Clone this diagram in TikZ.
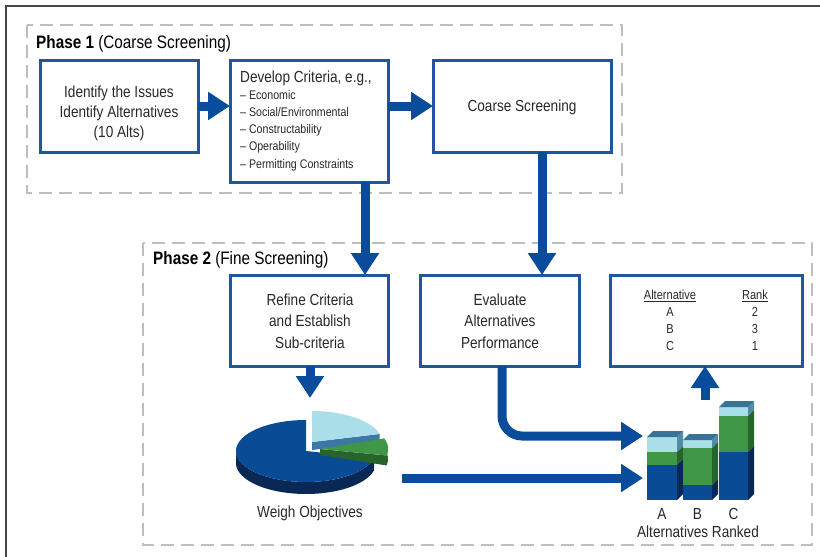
\documentclass[tikz,border=0pt]{standalone}
\usepackage{fontspec}
\setmainfont[FakeStretch=0.85]{Liberation Sans}
\usetikzlibrary{arrows.meta}
\definecolor{boxblue}{RGB}{35,84,160}
\definecolor{arrowblue}{RGB}{8,76,155}
\definecolor{dashgray}{RGB}{190,190,190}
\definecolor{framegray}{RGB}{70,70,70}
\definecolor{txtgray}{RGB}{40,40,40}
\definecolor{topblue}{RGB}{10,75,150}
\definecolor{sideblue}{RGB}{10,40,85}
\definecolor{lightb}{RGB}{170,222,232}
\definecolor{steel}{RGB}{60,120,165}
\definecolor{greenc}{RGB}{62,150,70}
\definecolor{darkgreen}{RGB}{38,100,44}
\definecolor{bartop}{RGB}{55,115,150}
\definecolor{lbside}{RGB}{80,140,170}
\newcommand\drawbar[6]{%
  \fill[lightb] (#1,#3) rectangle (#2,#4);
  \fill[greenc] (#1,#4) rectangle (#2,#5);
  \fill[topblue] (#1,#5) rectangle (#2,#6);
  \fill[lbside] (#2,#3) -- (#2+6,#3-6) -- (#2+6,#4-6) -- (#2,#4) -- cycle;
  \fill[darkgreen] (#2,#4) -- (#2+6,#4-6) -- (#2+6,#5-6) -- (#2,#5) -- cycle;
  \fill[sideblue] (#2,#5) -- (#2+6,#5-6) -- (#2+6,#6-6) -- (#2,#6) -- cycle;
  \fill[bartop] (#1,#3) -- (#1+6,#3-6) -- (#2+6,#3-6) -- (#2,#3) -- cycle;
}
\begin{document}
\begin{tikzpicture}[x=1pt,y=-1pt,
  box/.style={draw=boxblue, line width=3pt, fill=white, inner sep=0pt, outer sep=0pt},
  phase/.style={draw=dashgray, line width=2.5pt, dash pattern=on 13pt off 7pt},
  bigarrow/.style={draw=arrowblue, line width=9pt, -{Triangle[width=27pt,length=22pt]}},
  maintxt/.style={font=\fontsize{16}{20}\selectfont, text=txtgray, inner sep=0pt},
  smalltxt/.style={font=\fontsize{12.5}{15}\selectfont, text=txtgray, inner sep=0pt, anchor=west},
  ranktxt/.style={font=\fontsize{13}{15}\selectfont, text=txtgray, inner sep=0pt},
  titletxt/.style={font=\fontsize{18}{22}\selectfont, text=black, inner sep=0pt, anchor=west}]
\useasboundingbox (0,0) rectangle (820,557);
\fill[white] (0,0) rectangle (820,557);
\draw[framegray, line width=2pt] (6,557) -- (6,6) -- (820,6);

% phases
\draw[phase] (27,25) rectangle (622,193);
\draw[phase] (143,243) rectangle (812,545);
\node[titletxt] (ph1) at (36,44) {\textbf{Phase 1} (Coarse Screening)};
\node[titletxt] (ph2) at (153,260) {\textbf{Phase 2} (Fine Screening)};

% boxes
\node[box, minimum width=158pt, minimum height=92pt] (box1) at (119,106) {};
\node[box, minimum width=158pt, minimum height=122pt] (box2) at (309,121) {};
\node[box, minimum width=178pt, minimum height=92pt] (box3) at (522,106) {};
\node[box, minimum width=158pt, minimum height=91pt] (box4) at (309,320.5) {};
\node[box, minimum width=159pt, minimum height=91pt] (box5) at (499.5,320.5) {};
\node[box, minimum width=192pt, minimum height=91pt] (box6) at (706,320.5) {};

% box texts
\node[maintxt] (t1a) at (119,93) {Identify the Issues};
\node[maintxt] (t1b) at (119,113) {Identify Alternatives};
\node[maintxt] (t1c) at (119,133) {(10 Alts)};
\node[maintxt, anchor=west] (t2) at (240,78) {Develop Criteria, e.g.,};
\node[smalltxt] (c1) at (240,95) {– Economic};
\node[smalltxt] (c2) at (240,112.5) {– Social/Environmental};
\node[smalltxt] (c3) at (240,130) {– Constructability};
\node[smalltxt] (c4) at (240,147.5) {– Operability};
\node[smalltxt] (c5) at (240,165) {– Permitting Constraints};
\node[maintxt] (t3) at (522,107) {Coarse Screening};
\node[maintxt] (t4a) at (310,300) {Refine Criteria};
\node[maintxt] (t4b) at (310,321) {and Establish};
\node[maintxt] (t4c) at (310,343) {Sub-criteria};
\node[maintxt] (t5a) at (500,300) {Evaluate};
\node[maintxt] (t5b) at (500,321) {Alternatives};
\node[maintxt] (t5c) at (500,343) {Performance};
\node[ranktxt] (rh1) at (670,296) {\underline{Alternative}};
\node[ranktxt] (rh2) at (755,296) {\underline{Rank}};
\node[ranktxt] (ra) at (670,312) {A};
\node[ranktxt] (rb) at (670,329) {B};
\node[ranktxt] (rc) at (670,346) {C};
\node[ranktxt] (r2) at (755,312) {2};
\node[ranktxt] (r3) at (755,329) {3};
\node[ranktxt] (r1) at (755,346) {1};

% pie chart
\fill[sideblue] plot[domain=180:13,samples=50] ({306+70*cos(\x)},{451+31*sin(\x)})
  -- plot[domain=13:180,samples=50] ({306+70*cos(\x)},{463+31*sin(\x)}) -- cycle;
\fill[topblue] (306,451) -- plot[domain=13:270,samples=70] ({306+70*cos(\x)},{451+31*sin(\x)}) -- cycle;
\fill[steel] (312,442) -- ({312+70*cos(345)},{442+31*sin(345)}) -- ({312+70*cos(345)},{450+31*sin(345)}) -- (312,450) -- cycle;
\fill[lightb] (312,442) -- plot[domain=270:345,samples=40] ({312+70*cos(\x)},{442+31*sin(\x)}) -- cycle;
\fill[darkgreen] plot[domain=340:372,samples=16] ({320+68*cos(\x)},{449+31*sin(\x)})
  -- (320,449) -- (320,455)
  -- plot[domain=372:340,samples=16] ({320+68*cos(\x)},{459+31*sin(\x)}) -- cycle;
\fill[greenc] (320,449) -- plot[domain=340:372,samples=20] ({320+68*cos(\x)},{449+31*sin(\x)}) -- cycle;
\node[maintxt] (weigh) at (310,513) {Weigh Objectives};

% bars
\drawbar{647}{677}{437}{452}{465}{500}
\drawbar{683}{712}{440}{448}{485}{500}
\drawbar{719}{748}{407}{416}{452}{500}
\node[maintxt] (la) at (662,514) {A};
\node[maintxt] (lb) at (697.5,514) {B};
\node[maintxt] (lc) at (733.5,514) {C};
\node[maintxt] (ranked) at (698,532) {Alternatives Ranked};

% coordinates
\coordinate (pietop) at (310,398);
\coordinate (inA) at (643,436);
\coordinate (pieR) at (402,478);
\coordinate (inB) at (643,478);
\coordinate (barsTop) at (705,400);

% arrows
\draw[bigarrow] (box1.east) -- (box1.east -| box2.west);
\draw[bigarrow] (box1.east -| box2.east) -- (box1.east -| box3.west);
\draw[bigarrow] ([xshift=56pt]box2.south) -- ([xshift=56pt]box4.north);
\draw[bigarrow] ([xshift=20pt]box3.south) -- ([xshift=42.5pt]box5.north);
\draw[bigarrow] ([xshift=1pt]box4.south) -- (pietop);
\draw[bigarrow, rounded corners=20pt] ([xshift=2.5pt]box5.south) |- (inA);
\draw[bigarrow] (pieR) -- (inB);
\draw[bigarrow] (barsTop) -- (barsTop |- box6.south);
\end{tikzpicture}
\end{document}
